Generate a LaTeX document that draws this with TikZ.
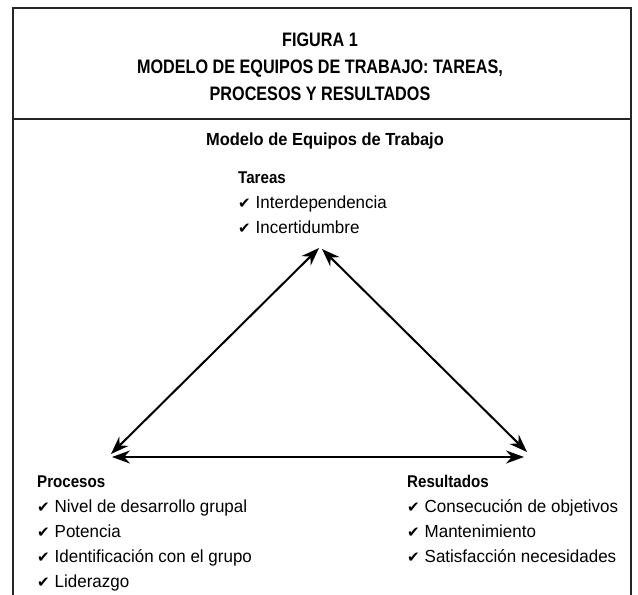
\documentclass[tikz,border=0pt]{standalone}
\usepackage{fontspec}
\setmainfont{Liberation Sans}[FakeStretch=0.97]
\newfontfamily\titlefont{Liberation Sans}[FakeStretch=0.83]
\newfontfamily\headfont{Liberation Sans}[FakeStretch=0.89]
\newfontfamily\subfont{Liberation Sans}[FakeStretch=0.94]
\newfontfamily\checkfont{DejaVu Sans}
\usetikzlibrary{arrows.meta}
\newcommand{\chk}{\makebox[17.5pt][l]{\checkfont\fontsize{15}{15}\selectfont ✔}}
\tikzset{
  frame/.style={line width=2.3pt, draw=black!85},
  titletext/.style={font=\titlefont\bfseries\fontsize{19.5}{27}\selectfont, align=center, inner sep=0pt},
  headtext/.style={font=\headfont\bfseries\fontsize{17}{17}\selectfont, anchor=base west, inner sep=0pt},
  itemtext/.style={font=\fontsize{17.5}{17.5}\selectfont, anchor=base west, inner sep=0pt},
  link/.style={line width=2pt, {Stealth[length=18pt,width=13pt]}-{Stealth[length=18pt,width=13pt]}}
}
\begin{document}
\begin{tikzpicture}[x=1pt,y=-1pt]
\useasboundingbox (0,0) rectangle (638,595);
% frame
\coordinate (bl) at (13,600);
\coordinate (tl) at (13,8);
\coordinate (tr) at (631,8);
\coordinate (br) at (631,600);
\coordinate (dl) at (13,119);
\coordinate (dr) at (631,119);
\draw[frame] (bl) -- (tl) -- (tr) -- (br);
\draw[frame] (dl) -- (dr);
% title
\node[titletext] (title) at (320,67) {FIGURA 1\\MODELO DE EQUIPOS DE TRABAJO: TAREAS,\\PROCESOS Y RESULTADOS};
\node[font=\subfont\bfseries\fontsize{17.5}{17.5}\selectfont, anchor=base, inner sep=0pt] (sub) at (325,145) {Modelo de Equipos de Trabajo};
% Tareas
\node[headtext] (tareas) at (238,183) {Tareas};
\node[itemtext] (t1) at (238,208) {\chk Interdependencia};
\node[itemtext] (t2) at (238,233) {\chk Incertidumbre};
% Procesos
\node[headtext] (procesos) at (37,487) {Procesos};
\node[itemtext] (p1) at (37,512) {\chk Nivel de desarrollo grupal};
\node[itemtext] (p2) at (37,537) {\chk Potencia};
\node[itemtext] (p3) at (37,562) {\chk Identificación con el grupo};
\node[itemtext] (p4) at (37,587) {\chk Liderazgo};
% Resultados
\node[headtext] (resultados) at (407,487) {Resultados};
\node[itemtext] (r1) at (407,512) {\chk Consecución de objetivos};
\node[itemtext] (r2) at (407,537) {\chk Mantenimiento};
\node[itemtext] (r3) at (407,562) {\chk Satisfacción necesidades};
% triangle
\coordinate (apexL) at (319,248);
\coordinate (apexR) at (322,249);
\coordinate (leftD) at (111,454);
\coordinate (rightD) at (527,452);
\coordinate (leftH) at (112,457);
\coordinate (rightH) at (524,457);
\draw[link] (leftD) -- (apexL);
\draw[link] (apexR) -- (rightD);
\draw[link] (leftH) -- (rightH);
\end{tikzpicture}
\end{document}
